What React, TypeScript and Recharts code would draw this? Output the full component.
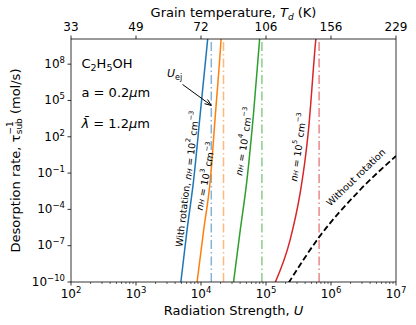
import React from "react";
import { LineChart, Line, XAxis, YAxis, ReferenceLine, ReferenceDot } from "recharts";

document.body.style.margin = "0";

// axes
const uMajorTicks = [1e2, 1e3, 1e4, 1e5, 1e6, 1e7];
const tempTickLabels = ["33", "49", "72", "106", "156", "229"];
const rateTicks = [1e-10, 1e-7, 1e-4, 1e-1, 1e2, 1e5, 1e8];
const uMinorTicks = uMajorTicks
  .slice(0, -1)
  .flatMap((d) => [2, 3, 4, 5, 6, 7, 8, 9].map((k) => k * d));
const uAllTicks = [...uMajorTicks, ...uMinorTicks].sort((a, b) => a - b);

// with rotation, one curve per gas density n_H
const n2U = [4.9e3, 6.1e3, 7.7e3, 9.75e3, 1.26e4, 1.29e4];
const n2Rate = [1e-10, 2e-6, 2.6e-2, 8.5e3, 8.7e9, 3e10];
const n3U = [8.7e3, 1.1e4, 1.39e4, 1.67e4, 2.03e4, 2.06e4];
const n3Rate = [1e-10, 2e-6, 2.6e-2, 8.5e3, 8.7e9, 3e10];
const n4U = [3.17e4, 4.02e4, 5.09e4, 6.43e4, 7.94e4, 8.1e4];
const n4Rate = [1e-10, 2e-6, 2.6e-2, 8.5e3, 8.7e9, 3e10];
const n5U = [1.38e5, 2.35e5, 3.35e5, 3.99e5, 4.5e5, 5.83e5, 5.94e5];
const n5Rate = [8.7e-11, 3e-7, 2.2e-3, 1.2, 340, 1.05e10, 3e10];

// without rotation
const noRotU = [2.22e5, 6.4e5, 2.79e6, 1e7];
const noRotRate = [8.3e-11, 4.2e-7, 4e-3, 2.6];

// U_ej for each density
const uEj = [1.44e4, 2.22e4, 8.65e4, 6.56e5];
const colors = ["#1f77b4", "#ff7f0e", "#2ca02c", "#d62728"];

const toRows = (us: number[], rates: number[]) => us.map((u, i) => ({ u, rate: rates[i] }));
const curves = [
  toRows(n2U, n2Rate),
  toRows(n3U, n3Rate),
  toRows(n4U, n4Rate),
  toRows(n5U, n5Rate),
];
const noRotRows = toRows(noRotU, noRotRate);

const supText = (exp: number) => (exp < 0 ? "\u2212" + Math.abs(exp) : String(exp));

const BottomTick = (props: any) => {
  const { x, y, payload } = props;
  const v = payload.value as number;
  const isMajor = uMajorTicks.includes(v);
  const exp = Math.round(Math.log10(v));
  return (
    <g>
      <line x1={x} x2={x} y1={y} y2={y + (isMajor ? 3.5 : 2)} stroke="#000" strokeWidth={isMajor ? 0.8 : 0.6} />
      {isMajor && (
        <text x={x} y={y + 15.5} textAnchor="middle" fontSize={12} fill="#000">
          10<tspan dy={-5} fontSize={8.5}>{supText(exp)}</tspan>
        </text>
      )}
    </g>
  );
};

const TopTick = (props: any) => {
  const { x, y, payload } = props;
  const idx = uMajorTicks.indexOf(payload.value);
  return (
    <g>
      <line x1={x} x2={x} y1={y} y2={y - 3.5} stroke="#000" strokeWidth={0.8} />
      <text x={x} y={y - 8} textAnchor="middle" fontSize={12} fill="#000">
        {tempTickLabels[idx] ?? ""}
      </text>
    </g>
  );
};

const LeftTick = (props: any) => {
  const { x, y, payload } = props;
  const exp = Math.round(Math.log10(payload.value));
  return (
    <g>
      <line x1={x - 3.5} x2={x} y1={y} y2={y} stroke="#000" strokeWidth={0.8} />
      <text x={x - 6} y={y + 3.8} textAnchor="end" fontSize={12} fill="#000">
        10<tspan dy={-5} fontSize={8.5}>{supText(exp)}</tspan>
      </text>
    </g>
  );
};

const ArrowShape = (p: any) => {
  const { x1, y1, x2, y2 } = p;
  const a = Math.atan2(y2 - y1, x2 - x1);
  const len = 7;
  const spread = 0.38;
  const pts = [
    [x2 - len * Math.cos(a - spread), y2 - len * Math.sin(a - spread)],
    [x2, y2],
    [x2 - len * Math.cos(a + spread), y2 - len * Math.sin(a + spread)],
  ]
    .map((q) => q.join(","))
    .join(" ");
  return (
    <g>
      <line x1={x1} y1={y1} x2={x2} y2={y2} stroke="#000" strokeWidth={1} />
      <polyline points={pts} fill="none" stroke="#000" strokeWidth={1} />
    </g>
  );
};

const SUB = 6.7;

const densityLabel = (angle: number, exp: number, prefix: string) => (p: any) => {
  const cx = p.viewBox.x;
  const cy = p.viewBox.y;
  return (
    <text
      x={cx}
      y={cy}
      transform={`rotate(${angle} ${cx} ${cy})`}
      textAnchor="middle"
      dominantBaseline="central"
      fontSize={9.5}
      fill="#000"
    >
      {prefix}
      <tspan fontStyle="italic">n</tspan>
      <tspan fontStyle="italic" fontSize={SUB} dy={2}>H</tspan>
      <tspan dy={-2}> = 10</tspan>
      <tspan fontSize={SUB} dy={-3.5}>{exp}</tspan>
      <tspan dy={3.5}> cm</tspan>
      <tspan fontSize={SUB} dy={-3.5}>{"\u22123"}</tspan>
    </text>
  );
};

const plainLabel = (content: React.ReactNode, size = 13) => (p: any) => (
  <text x={p.viewBox.x} y={p.viewBox.y} fontSize={size} fill="#000">
    {content}
  </text>
);

const rotatedLabel = (angle: number, content: string) => (p: any) => {
  const cx = p.viewBox.x;
  const cy = p.viewBox.y;
  return (
    <text x={cx} y={cy} transform={`rotate(${angle} ${cx} ${cy})`} textAnchor="middle" dominantBaseline="central" fontSize={9.5} fill="#000">
      {content}
    </text>
  );
};

export default function App() {
  return (
    <div style={{ fontFamily: "DejaVu Sans", width: 416, height: 325 }}>
      <LineChart width={416} height={325} margin={{ top: 0, right: 20, bottom: 0, left: 0 }}>
        <XAxis
          xAxisId="bottom"
          dataKey="u"
          type="number"
          scale="log"
          domain={[1e2, 1e7]}
          allowDataOverflow
          ticks={uAllTicks}
          interval={0}
          tick={BottomTick}
          tickLine={false}
          tickSize={0}
          tickMargin={0}
          height={43}
          axisLine={{ stroke: "#000", strokeWidth: 0.8 }}
          label={(p: any) => (
            <text x={p.viewBox.x + p.viewBox.width / 2} y={315} textAnchor="middle" fontSize={13} fill="#000">
              Radiation Strength, <tspan fontStyle="italic">U</tspan>
            </text>
          )}
        />
        <XAxis
          xAxisId="top"
          dataKey="u"
          orientation="top"
          type="number"
          scale="log"
          domain={[1e2, 1e7]}
          allowDataOverflow
          ticks={uMajorTicks}
          interval={0}
          tick={TopTick}
          tickLine={false}
          tickSize={0}
          tickMargin={0}
          height={39}
          axisLine={{ stroke: "#000", strokeWidth: 0.8 }}
          label={(p: any) => (
            <text x={p.viewBox.x + p.viewBox.width / 2} y={16.5} textAnchor="middle" fontSize={13} fill="#000">
              Grain temperature, <tspan fontStyle="italic">T</tspan>
              <tspan fontStyle="italic" fontSize={9} dy={3}>d</tspan>
              <tspan dy={-3}> (K)</tspan>
            </text>
          )}
        />
        <YAxis
          yAxisId="left"
          type="number"
          scale="log"
          domain={[1e-10, 1.2e10]}
          allowDataOverflow
          ticks={rateTicks}
          interval={0}
          tick={LeftTick}
          tickLine={false}
          tickSize={0}
          tickMargin={0}
          width={71}
          axisLine={{ stroke: "#000", strokeWidth: 0.8 }}
          label={(p: any) => {
            const cy = p.viewBox.y + p.viewBox.height / 2;
            return (
              <text x={15} y={cy} transform={`rotate(-90 15 ${cy})`} textAnchor="middle" dominantBaseline="central" fontSize={13} fill="#000">
                Desorption rate, τ
                <tspan fontSize={9} dy={-5}>{"\u22121"}</tspan>
                <tspan fontSize={9} dx={-13} dy={8.5}>sub</tspan>
                <tspan dy={-3.5}> (mol/s)</tspan>
              </text>
            );
          }}
        />
        <ReferenceLine xAxisId="bottom" yAxisId="left" x={1e7} stroke="#000" strokeWidth={0.8} />

        {uEj.map((u, i) => (
          <ReferenceLine
            key={"ej" + i}
            xAxisId="bottom"
            yAxisId="left"
            x={u}
            stroke={colors[i]}
            strokeOpacity={0.55}
            strokeWidth={1.5}
            strokeDasharray="9 3 1.5 3"
          />
        ))}

        {/* invisible copy so the temperature axis has a series */}
        <Line
          xAxisId="top"
          yAxisId="left"
          data={noRotRows}
          dataKey="rate"
          stroke="none"
          dot={false}
          activeDot={false}
          legendType="none"
          isAnimationActive={false}
        />

        {curves.map((rows, i) => (
          <Line
            key={"c" + i}
            xAxisId="bottom"
            yAxisId="left"
            data={rows}
            dataKey="rate"
            type="monotone"
            stroke={colors[i]}
            strokeWidth={1.5}
            dot={false}
            isAnimationActive={false}
          />
        ))}
        <Line
          xAxisId="bottom"
          yAxisId="left"
          data={noRotRows}
          dataKey="rate"
          type="monotone"
          stroke="#000"
          strokeWidth={1.8}
          strokeDasharray="6 3"
          dot={false}
          isAnimationActive={false}
        />

        <ReferenceLine
          xAxisId="bottom"
          yAxisId="left"
          segment={[
            { x: 5.2e3, y: 2.1e6 },
            { x: 1.44e4, y: 3.9e4 },
          ]}
          shape={ArrowShape}
        />

        <ReferenceDot xAxisId="bottom" yAxisId="left" x={145} y={4.95e7} r={0} fill="none" stroke="none"
          label={plainLabel(<>C<tspan fontSize={9.5} dy={3}>2</tspan><tspan dy={-3}>H</tspan><tspan fontSize={9.5} dy={3}>5</tspan><tspan dy={-3}>OH</tspan></>)} />
        <ReferenceDot xAxisId="bottom" yAxisId="left" x={145} y={1.89e5} r={0} fill="none" stroke="none"
          label={plainLabel(<>a = 0.2<tspan fontStyle="italic">μ</tspan>m</>)} />
        <ReferenceDot xAxisId="bottom" yAxisId="left" x={145} y={550} r={0} fill="none" stroke="none"
          label={plainLabel(<><tspan fontStyle="italic">{"λ\u0304"}</tspan> = 1.2<tspan fontStyle="italic">μ</tspan>m</>)} />
        <ReferenceDot xAxisId="bottom" yAxisId="left" x={3.0e3} y={8.3e6} r={0} fill="none" stroke="none"
          label={plainLabel(<><tspan fontStyle="italic">U</tspan><tspan fontSize={8} dy={2.5}>ej</tspan></>, 11)} />

        <ReferenceDot xAxisId="bottom" yAxisId="left" x={6.1e3} y={3.2e-2} r={0} fill="none" stroke="none"
          label={densityLabel(-83, 2, "With rotation, ")} />
        <ReferenceDot xAxisId="bottom" yAxisId="left" x={1.16e4} y={5.6e-2} r={0} fill="none" stroke="none"
          label={densityLabel(-79, 3, "")} />
        <ReferenceDot xAxisId="bottom" yAxisId="left" x={4.5e4} y={42} r={0} fill="none" stroke="none"
          label={densityLabel(-81, 4, "")} />
        <ReferenceDot xAxisId="bottom" yAxisId="left" x={3.1e5} y={14} r={0} fill="none" stroke="none"
          label={densityLabel(-82, 5, "")} />
        <ReferenceDot xAxisId="bottom" yAxisId="left" x={2.4e6} y={4.5e-2} r={0} fill="none" stroke="none"
          label={rotatedLabel(-44, "Without rotation")} />
      </LineChart>
    </div>
  );
}
